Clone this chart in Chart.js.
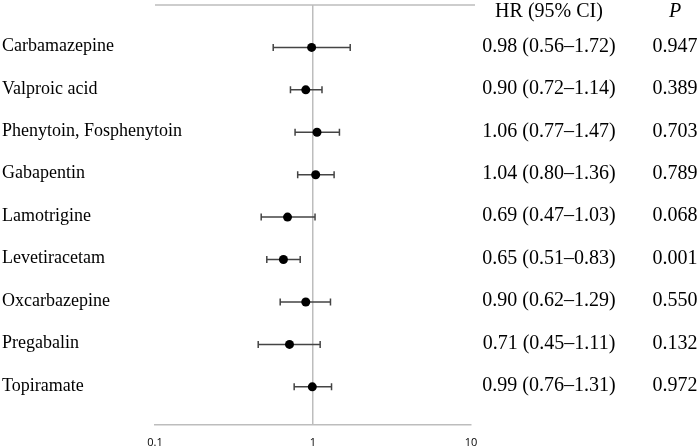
<!DOCTYPE html>
<html>
<head>
<meta charset="utf-8">
<script src="https://cdn.jsdelivr.net/npm/chart.js@4/dist/chart.umd.min.js"></script>
<style>
  html, body { margin: 0; padding: 0; background: #fff; }
  #wrap { width: 698px; height: 448px; }
</style>
</head>
<body>
<div id="wrap"><canvas id="c" width="698" height="448"></canvas></div>
<script>
const drugs = ['Carbamazepine', 'Valproic acid', 'Phenytoin, Fosphenytoin', 'Gabapentin', 'Lamotrigine', 'Levetiracetam', 'Oxcarbazepine', 'Pregabalin', 'Topiramate'];
const hr = [0.98, 0.90, 1.06, 1.04, 0.69, 0.65, 0.90, 0.71, 0.99];
const ciLow = [0.56, 0.72, 0.77, 0.80, 0.47, 0.51, 0.62, 0.45, 0.76];
const ciHigh = [1.72, 1.14, 1.47, 1.36, 1.03, 0.83, 1.29, 1.11, 1.31];
const pValues = ['0.947', '0.389', '0.703', '0.789', '0.068', '0.001', '0.550', '0.132', '0.972'];
const xTicks = [0.1, 1, 10];
const hrHeader = 'HR (95% CI)';
const pHeader = 'P';

const SERIF = '"Liberation Serif", "Times New Roman", serif';
const GRAY = '#bdbdbd';

const forestPlugin = {
  id: 'forest',
  beforeDatasetsDraw(chart) {
    const ctx = chart.ctx;
    const xs = chart.scales.x, ys = chart.scales.y;
    const area = chart.chartArea;
    ctx.save();
    // top rule
    ctx.strokeStyle = GRAY;
    ctx.lineWidth = 1.5;
    ctx.beginPath();
    ctx.moveTo(area.left, area.top);
    ctx.lineTo(area.right + 4, area.top);
    ctx.stroke();
    // error bars
    ctx.strokeStyle = '#444';
    ctx.lineWidth = 1.5;
    const cap = 3.5;
    hr.forEach((v, i) => {
      const y = ys.getPixelForValue(i + 1);
      const x1 = xs.getPixelForValue(ciLow[i]);
      const x2 = xs.getPixelForValue(ciHigh[i]);
      ctx.beginPath();
      ctx.moveTo(x1, y); ctx.lineTo(x2, y);
      ctx.moveTo(x1, y - cap); ctx.lineTo(x1, y + cap);
      ctx.moveTo(x2, y - cap); ctx.lineTo(x2, y + cap);
      ctx.stroke();
    });
    ctx.restore();
  },
  afterDraw(chart) {
    const ctx = chart.ctx;
    const ys = chart.scales.y;
    const hrX = 549, pX = 675;
    ctx.save();
    ctx.fillStyle = '#000';
    ctx.textBaseline = 'middle';
    ctx.textAlign = 'center';
    ctx.font = '20px ' + SERIF;
    ctx.fillText(hrHeader, hrX, 12);
    ctx.font = 'italic 20px ' + SERIF;
    ctx.fillText(pHeader, pX, 12);
    ctx.font = '20px ' + SERIF;
    hr.forEach((v, i) => {
      const y = ys.getPixelForValue(i + 1) - 1;
      const txt = v.toFixed(2) + ' (' + ciLow[i].toFixed(2) + '\u2013' + ciHigh[i].toFixed(2) + ')';
      ctx.fillText(txt, hrX, y);
      ctx.fillText(pValues[i], pX, y);
    });
    ctx.restore();
  }
};

new Chart(document.getElementById('c'), {
  type: 'scatter',
  data: {
    datasets: [{
      data: hr.map((v, i) => ({ x: v, y: i + 1 })),
      pointRadius: 4.5,
      pointHoverRadius: 4.5,
      backgroundColor: '#000',
      borderColor: '#000',
      borderWidth: 0
    }]
  },
  options: {
    responsive: false,
    animation: false,
    devicePixelRatio: 1,
    layout: { padding: { top: 5, right: 227, bottom: 0, left: 0 } },
    plugins: { legend: { display: false }, tooltip: { enabled: false } },
    scales: {
      x: {
        type: 'logarithmic',
        min: 0.1,
        max: 10,
        afterBuildTicks: s => { s.ticks = xTicks.map(v => ({ value: v })); },
        afterFit: s => { s.height = 23; },
        ticks: {
          callback: v => String(v),
          color: '#000',
          padding: 11,
          autoSkip: false,
          maxRotation: 0,
          font: { family: '"Open Sans", "Liberation Sans", sans-serif', size: 11 }
        },
        grid: {
          color: c => (c.tick && c.tick.value === 1) ? GRAY : 'rgba(0,0,0,0)',
          lineWidth: 1.5,
          drawTicks: false
        },
        border: { color: GRAY, width: 1.5 }
      },
      y: {
        type: 'linear',
        min: 0,
        max: 9.9,
        reverse: true,
        afterBuildTicks: s => { s.ticks = drugs.map((d, i) => ({ value: i + 1 })); },
        afterFit: s => { s.width = 155; s.paddingTop = 0; s.paddingBottom = 0; },
        ticks: {
          callback: v => drugs[v - 1],
          mirror: true,
          crossAlign: 'near',
          padding: -153,
          labelOffset: -1,
          color: '#000',
          autoSkip: false,
          font: { family: SERIF, size: 18 }
        },
        grid: { display: false, drawTicks: false },
        border: { display: false }
      }
    }
  },
  plugins: [forestPlugin]
});
</script>
</body>
</html>
